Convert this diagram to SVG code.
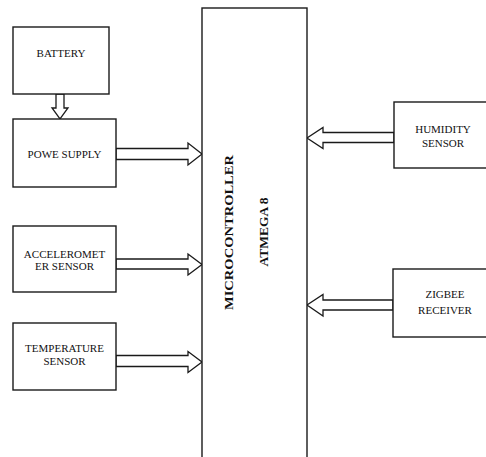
<svg xmlns="http://www.w3.org/2000/svg" width="486" height="457" viewBox="0 0 486 457">
<style>
.box{fill:#fff;stroke:#1a1a1a;stroke-width:1.4}
.arr{fill:#fff;stroke:#1a1a1a;stroke-width:1.3;stroke-linejoin:miter}
.t{font-family:"Liberation Serif","Times New Roman",serif;font-size:11px;fill:#111;text-anchor:middle}
.mc{font-family:"Liberation Serif","Times New Roman",serif;font-size:13.5px;font-weight:bold;fill:#111;text-anchor:middle}
</style>
<rect width="486" height="457" fill="#fff"/>
<g id="connectors">
<polygon class="arr" points="56,94 64,94 64,108 68,108 60,119 52,108 56,108"/>
<polygon class="arr" points="116,148.5 188,148.5 188,143 202,154 188,165 188,159.5 116,159.5"/>
<polygon class="arr" points="116,259 188,259 188,254 202,264.5 188,275 188,269 116,269"/>
<polygon class="arr" points="116,355.5 188,355.5 188,351.5 202,362 188,372.5 188,366.5 116,366.5"/>
<polygon class="arr" points="394,132.5 323,132.5 323,127.5 307,138 323,148.5 323,142.5 394,142.5"/>
<polygon class="arr" points="393,300 323,300 323,294.5 307,305 323,316 323,310 393,310"/>
</g>
<g id="battery"><rect class="box" x="13" y="27" width="96" height="67"/><text class="t" x="61" y="57">BATTERY</text></g>
<g id="power-supply"><rect class="box" x="13" y="119" width="103" height="68"/><text class="t" x="64.5" y="158">POWE SUPPLY</text></g>
<g id="accelerometer"><rect class="box" x="13" y="226" width="103" height="66"/><text class="t" x="64.5" y="258">ACCELEROMET</text><text class="t" x="64.5" y="270">ER SENSOR</text></g>
<g id="temperature"><rect class="box" x="13" y="323" width="103" height="67"/><text class="t" x="64.5" y="352">TEMPERATURE</text><text class="t" x="64.5" y="365">SENSOR</text></g>
<g id="microcontroller"><rect class="box" x="202" y="8" width="105" height="460"/>
<text class="mc" transform="translate(233,232.5) rotate(-90)" textLength="155" lengthAdjust="spacingAndGlyphs">MICROCONTROLLER</text>
<text class="mc" transform="translate(268,232) rotate(-90)">ATMEGA 8</text></g>
<g id="humidity"><rect class="box" x="394" y="102" width="100" height="66"/><text class="t" x="443" y="133">HUMIDITY</text><text class="t" x="443" y="147">SENSOR</text></g>
<g id="zigbee"><rect class="box" x="393" y="269" width="101" height="68"/><text class="t" x="445" y="298">ZIGBEE</text><text class="t" x="445" y="314">RECEIVER</text></g>
</svg>
